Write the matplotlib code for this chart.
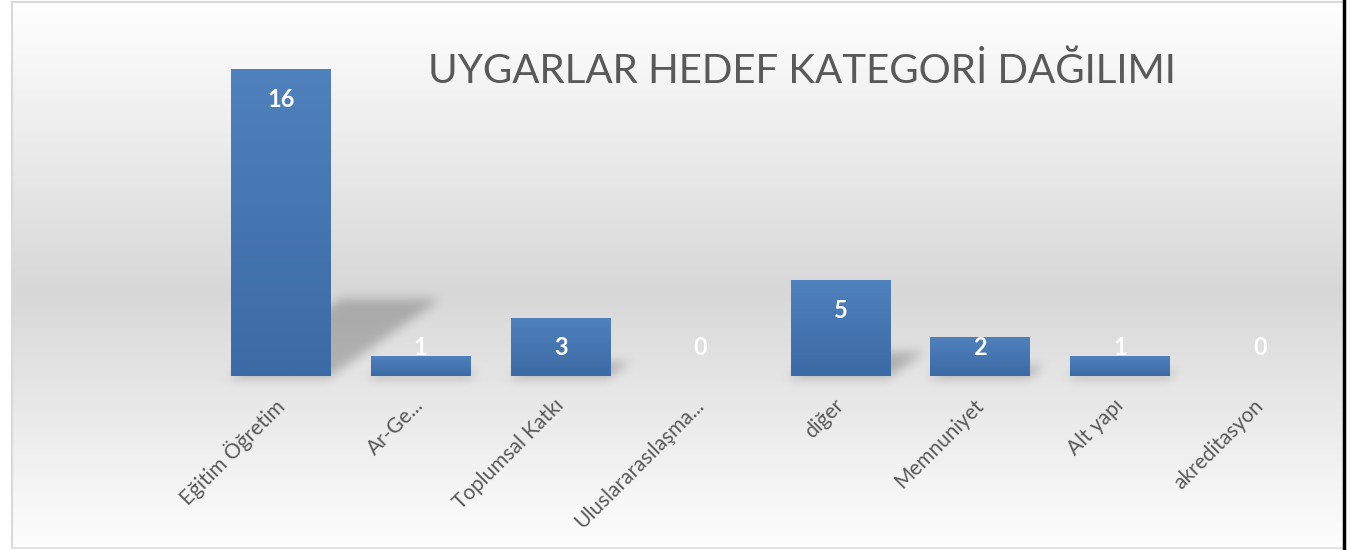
import numpy as np
import matplotlib.pyplot as plt

plt.rcParams['font.family'] = ['Lato', 'DejaVu Sans']

# data
categories = ['Eğitim Öğretim', 'Ar-Ge...', 'Toplumsal Katkı', 'Uluslararasılaşma...',
              'diğer', 'Memnuniyet', 'Alt yapı', 'akreditasyon']
values = [16, 1, 3, 0, 5, 2, 1, 0]
title = 'UYGARLAR HEDEF KATEGORİ DAĞILIMI'

W, H = 1359, 550
fig = plt.figure(figsize=(W / 100, H / 100), dpi=100)

# background axes in pixel coords (y down)
bg = fig.add_axes([0, 0, 1, 1], zorder=0)
bg.set_xlim(0, W)
bg.set_ylim(H, 0)
bg.axis('off')

s = np.linspace(0, 1, 300)
g = np.interp(s, [0, 0.53, 1], [1.0, 0.845, 0.995])
grad = np.stack([g, g, g], axis=-1)[:, None, :].repeat(2, axis=1)
bg.imshow(grad, extent=[12, 1343, 548, 2], aspect='auto', interpolation='bilinear', zorder=0)

# frame
bg.plot([12, 12], [2, 548], color='#d9d9d9', lw=1.5, zorder=3)
bg.plot([12, 1343], [2, 2], color='#d9d9d9', lw=1.5, zorder=3)
bg.plot([12, 1343], [548, 548], color='#e3e3e3', lw=1.5, zorder=3)
bg.plot([1344, 1344], [0, 550], color='black', lw=2.5, zorder=3)

# main axes
ax = fig.add_axes([211 / W, 174 / H, 1119 / W, 307 / H], zorder=1)
ax.patch.set_alpha(0)
x = np.arange(len(values))
bars = ax.bar(x, values, width=0.714, color='none', edgecolor='none')

# bar gradient (top lighter, bottom darker)
top_c = np.array([79, 129, 189]) / 255
bot_c = np.array([60, 106, 164]) / 255
t = np.linspace(0, 1, 100)[:, None]
bar_grad = (top_c * (1 - t) + bot_c * t)[:, None, :].repeat(2, axis=1)
for b in bars:
    if b.get_height() > 0:
        ax.imshow(bar_grad, extent=[b.get_x(), b.get_x() + b.get_width(), 0, b.get_height()],
                  aspect='auto', interpolation='bilinear', zorder=2)
ax.set_xlim(-0.5, 7.5)
ax.set_ylim(0, 16)
ax.set_aspect('auto')

# perspective shadows behind bars
yy, xx = np.mgrid[0:H, 0:W] + 0.5
mask = np.zeros((H, W))
k = 1.42
for b in bars:
    if b.get_height() <= 0:
        continue
    (x0, yb), (x1, yt) = ax.transData.transform([(b.get_x(), 0),
                                                 (b.get_x() + b.get_width(), b.get_height())])
    base = H - yb
    sh = 0.25 * (yt - yb)
    d = base - yy
    m = (d >= -2) & (d <= sh) & (xx >= x0 + d * k) & (xx <= x1 + d * k)
    mask = np.maximum(mask, m.astype(float))


def box_blur(a, r):
    for axis in (0, 1):
        c = np.cumsum(np.pad(a, [(r + 1, r) if i == axis else (0, 0) for i in range(2)], mode='edge'), axis=axis)
        if axis == 0:
            a = (c[2 * r + 1:] - c[:-2 * r - 1]) / (2 * r + 1)
        else:
            a = (c[:, 2 * r + 1:] - c[:, :-2 * r - 1]) / (2 * r + 1)
    return a


mask = box_blur(box_blur(mask, 6), 5)
shadow = np.zeros((H, W, 4))
shadow[..., 3] = mask * 0.22
bg.imshow(shadow, extent=[0, W, H, 0], interpolation='nearest', zorder=1)

# value labels
for xi, v in zip(x, values):
    ax.text(xi, max(v - 1.6, 1.46), str(v), ha='center', va='center',
            color='white', fontsize=17, fontweight='bold')

ax.set_xticks(x)
ax.set_xticklabels(categories, rotation=45, ha='right', va='center', rotation_mode='anchor',
                   fontsize=15, color='#595959')
ax.tick_params(axis='x', length=0, pad=19)
ax.set_yticks([])
for sp in ax.spines.values():
    sp.set_visible(False)

fig.text(801.5 / W, (H - 83) / H, title, ha='center', va='baseline',
         fontsize=29, color='#595959')

fig.savefig('out.png', dpi=100)
